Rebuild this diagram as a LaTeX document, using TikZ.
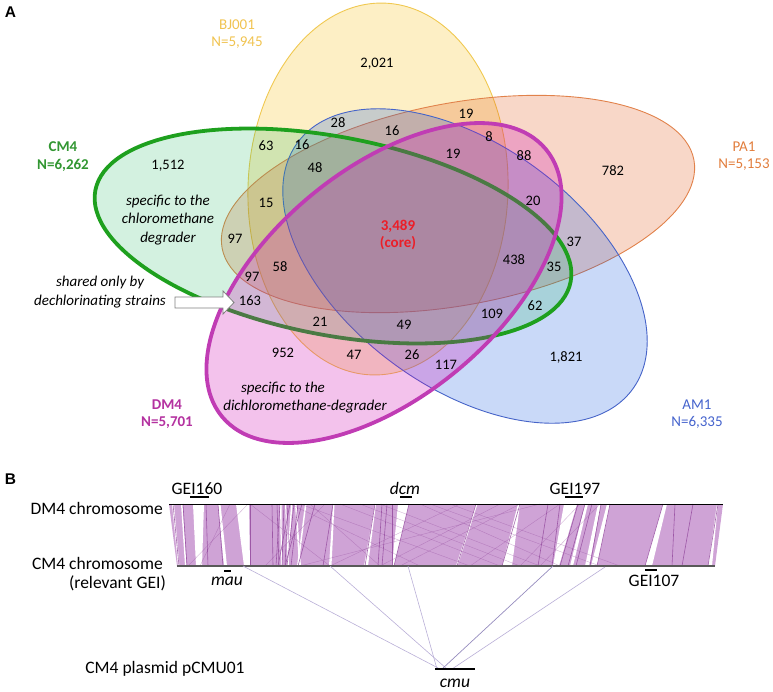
\documentclass[tikz,border=0pt]{standalone}
\usepackage{fontspec}
\setmainfont{Carlito}
\setsansfont{Liberation Sans}
\definecolor{bjc}{RGB}{248,202,62}
\definecolor{pac}{RGB}{227,95,35}
\definecolor{amc}{RGB}{10,80,225}
\definecolor{cmc}{RGB}{35,185,100}
\definecolor{dmc}{RGB}{207,11,179}
\definecolor{bjl}{RGB}{240,200,80}
\definecolor{pal}{RGB}{225,130,75}
\definecolor{aml}{RGB}{70,100,200}
\definecolor{cml}{RGB}{30,160,30}
\definecolor{dml}{RGB}{192,60,180}
\definecolor{bjt}{RGB}{240,195,80}
\definecolor{pat}{RGB}{225,125,60}
\definecolor{cmt}{RGB}{50,150,50}
\definecolor{dmt}{RGB}{180,50,160}
\definecolor{amt}{RGB}{70,100,205}
\definecolor{corec}{RGB}{235,30,40}
\definecolor{bandfill}{RGB}{207,163,214}
\definecolor{bandedge}{RGB}{145,70,155}
\definecolor{plasl}{RGB}{185,175,215}
\definecolor{plasd}{RGB}{150,140,190}
\begin{document}
\begin{tikzpicture}[x=1pt,y=-1pt,
  num/.style={font=\fontsize{14.5}{16}\selectfont, inner sep=0pt, text height=9.3pt, text depth=0pt},
  lab/.style={font=\fontsize{15}{17}\selectfont, align=center, inner sep=0pt},
  blab/.style={font=\fontsize{15}{17.5}\selectfont\bfseries, align=center, inner sep=0pt},
  ital/.style={font=\fontsize{15}{18.5}\selectfont\itshape, align=center, inner sep=0pt},
  btxt/.style={font=\fontsize{17.5}{20}\selectfont, inner sep=0pt, text height=11.3pt, text depth=0pt},
  panel/.style={font=\sffamily\bfseries\fontsize{15.5}{17}\selectfont, inner sep=0pt},
  gapfill/.style={fill=white},
  bandline/.style={draw=bandedge, line width=0.6pt, draw opacity=0.8},
  crossline/.style={draw=bandedge, line width=0.4pt, draw opacity=0.4},
  marker/.style={draw=black, line width=1.3pt},
  plight/.style={draw=plasl, line width=0.6pt},
  pdark/.style={draw=plasd, line width=0.7pt}
]
\useasboundingbox (0,0) rectangle (773,691);

% ---------------- Panel A: Venn ellipses ----------------
\path[fill=bjc, fill opacity=0.3, draw=bjl, line width=0.9pt, rotate around={-2:(378,189)}]
  (378,189) ellipse [x radius=130, y radius=186];
\path[fill=pac, fill opacity=0.25, draw=pal, line width=0.9pt, rotate around={10.6:(458,204)}]
  (458,204) ellipse [x radius=240, y radius=101];
\path[fill=amc, fill opacity=0.22, draw=aml, line width=0.9pt, rotate around={-36.4:(465,266)}]
  (465,266) ellipse [x radius=208, y radius=121];
\path[fill=cmc, fill opacity=0.2, draw=cml, line width=3.8pt, rotate around={-10.9:(333,236)}]
  (333,236) ellipse [x radius=242, y radius=99];
\path[fill=dmc, fill opacity=0.25, draw=dml, line width=3.8pt, rotate around={39.5:(384,283)}]
  (384,283) ellipse [x radius=210, y radius=114];

% arrow
\draw[draw=gray, line width=0.8pt, fill=white]
  (175,297) -- (223,297) -- (223,291) -- (234,302.5) -- (223,314) -- (223,308) -- (175,308) -- cycle;

% labels
\node[panel] (pA) at (10.5,12) {A};
\node[lab, text=bjt] (lbj) at (237,34.5) {BJ001\\N=5,945};
\node[lab, text=pat] (lpa) at (744,156.5) {PA1\\N=5,153};
\node[blab, text=cmt] (lcm) at (63,156.5) {CM4\\N=6,262};
\node[blab, text=dmt] (ldm) at (167,414) {DM4\\N=5,701};
\node[lab, text=amt] (lam) at (697,414.5) {AM1\\N=6,335};

\node[ital] (spc) at (168,220) {specific to the\\chloromethane\\degrader};
\node[ital] (spdA) at (283,388) {specific to the};
\node[ital] (spdB) at (305,407) {dichloromethane-degrader};
\node[ital] (shr) at (100,292) {shared only by\\dechlorinating strains};
\node[blab, text=corec] (core) at (398,235) {3,489\\(core)};

\node[num] (n01) at (377,63) {2,021};
\node[num] (n02) at (338,123) {28};
\node[num] (n03) at (392,131) {16};
\node[num] (n04) at (466,114) {19};
\node[num] (n05) at (489,137) {8};
\node[num] (n06) at (266,146) {63};
\node[num] (n07) at (302,145) {16};
\node[num] (n08) at (315,168) {48};
\node[num] (n09) at (453,154) {19};
\node[num] (n10) at (524,156) {88};
\node[num] (n11) at (613,171) {782};
\node[num] (n12) at (168,165) {1,512};
\node[num] (n13) at (266,203) {15};
\node[num] (n14) at (533,201) {20};
\node[num] (n15) at (235,239) {97};
\node[num] (n16) at (574,242) {37};
\node[num] (n17) at (514,260) {438};
\node[num] (n18) at (554,267) {35};
\node[num] (n19) at (280,267) {58};
\node[num] (n20) at (252,277) {97};
\node[num] (n21) at (250,301) {163};
\node[num] (n22) at (535,306) {62};
\node[num] (n23) at (492,314) {109};
\node[num] (n24) at (320,322) {21};
\node[num] (n25) at (404,325) {49};
\node[num] (n26) at (283,353) {952};
\node[num] (n27) at (354,355) {47};
\node[num] (n28) at (412,355) {26};
\node[num] (n29) at (446,365) {117};
\node[num] (n30) at (566,357) {1,821};

% ---------------- Panel B: synteny ----------------
\node[panel] (pB) at (10.5,479) {B};

\coordinate (dmL) at (169,504);
\coordinate (dmR) at (723,504);
\coordinate (cmL) at (177,566);
\coordinate (cmR) at (715,566);

\fill[bandfill] (dmL) -- (dmR) -- (cmR) -- (cmL) -- cycle;

\foreach \ta/\tb/\ba/\bb in {172/174/178/179.5, 181/182.5/185/186.5, 193/204/196/202,
  218/220.5/224/227, 236/249/244/250, 280/281.5/281/282, 285/286/288/289, 291/292.5/287/288,
  295/296.5/299/301, 305/306.5/297/298.5, 333/334.5/329/331.5, 375/376/364/368, 398/409/392/394,
  476/477.5/456/457.5, 518/520/502/512, 564/577/553/559, 585/588/570/573,
  598/601/585/589, 607/610/591/597, 663/667/645/652, 717/718/708/712}
  \fill[gapfill] (\ta,504) -- (\tb,504) -- (\bb,566) -- (\ba,566) -- cycle;

\foreach \t/\b in {173/179, 183/187, 206/208, 218/223, 250/250, 272/273, 277/279,
  280/276, 284/282, 288/285, 290/278, 294/287, 298/291, 302/285, 315/298, 333/323,
  375/365, 382/378, 387/382, 392/392, 409/394,
  476/457, 520/502, 548/538, 560/552, 578/560, 585/568, 592/576, 601/590, 610/597, 663/645,
  675/672, 693/682, 718/708}
  \draw[bandline] (\t,504) -- (\b,566);

\foreach \t/\b in {248/188, 230/200, 325/265, 360/520, 300/470, 420/560, 500/380,
  540/300, 450/620, 290/420, 600/540, 250/330, 340/500, 380/540, 460/330, 520/400,
  430/600, 560/470, 310/380, 580/520}
  \draw[crossline] (\t,504) -- (\b,566);

\draw[black, line width=1pt] (dmL) -- (dmR);
\draw[black!65, line width=1.4pt] (cmL) -- (cmR);

% plasmid
\coordinate (pl1) at (440,669);
\coordinate (pl2) at (447,669);
\coordinate (pl3) at (437,669);
\coordinate (pl4) at (442,669);
\coordinate (pl5) at (452,669);
\coordinate (c1) at (243,566);
\coordinate (c2) at (330,566);
\coordinate (c3) at (408,566);
\coordinate (c4) at (553,566);
\coordinate (c5) at (605,567);
\draw[plight] (c1) -- (pl1);
\draw[plight] (c2) -- (pl2);
\draw[plight] (c3) -- (pl3);
\draw[pdark] (c4) -- (pl4);
\draw[plight] (c5) -- (pl5);

% markers
\coordinate (m1a) at (190,497); \coordinate (m1b) at (209,497);
\coordinate (m2a) at (400,497); \coordinate (m2b) at (412,497);
\coordinate (m3a) at (565,497); \coordinate (m3b) at (583,497);
\coordinate (m4a) at (224,571); \coordinate (m4b) at (231,571);
\coordinate (m5a) at (645,570); \coordinate (m5b) at (657,570);
\coordinate (m6a) at (435,669); \coordinate (m6b) at (475,669);
\draw[marker] (m1a) -- (m1b);
\draw[marker] (m2a) -- (m2b);
\draw[marker] (m3a) -- (m3b);
\draw[marker] (m4a) -- (m4b);
\draw[marker] (m5a) -- (m5b);
\draw[marker, line width=1.6pt] (m6a) -- (m6b);

% texts
\node[btxt, anchor=east] (tdm) at (163,508.5) {DM4 chromosome};
\node[btxt, anchor=east] (tcm) at (163,564) {CM4 chromosome};
\node[btxt, anchor=east] (trel) at (166,583) {(relevant GEI)};
\node[btxt] (tpl) at (165,668) {CM4 plasmid pCMU01};
\node[btxt] (g160) at (197,489) {GEI160};
\node[btxt, font=\fontsize{17.5}{20}\selectfont\itshape] (gdcm) at (405,489) {dcm};
\node[btxt] (g197) at (575,489) {GEI197};
\node[btxt, font=\fontsize{17.5}{20}\selectfont\itshape] (gmau) at (227,579.5) {mau};
\node[btxt] (g107) at (654,581) {GEI107};
\node[btxt, font=\fontsize{17.5}{20}\selectfont\itshape] (gcmu) at (455,682) {cmu};
\end{tikzpicture}
\end{document}
